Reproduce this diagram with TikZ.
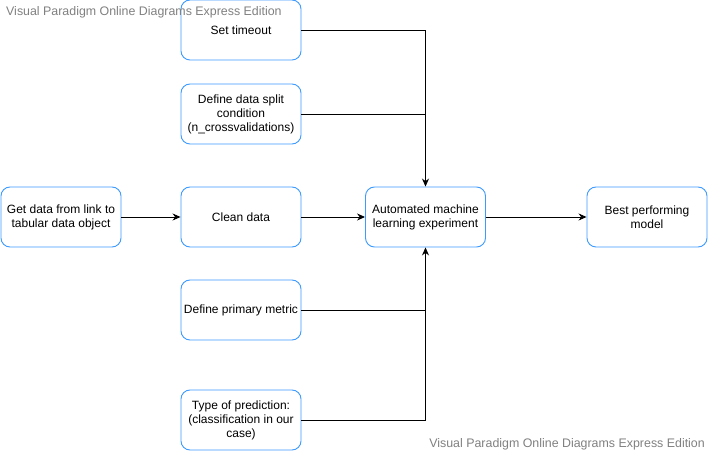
\documentclass[tikz,border=0pt]{standalone}
\usepackage{fontspec}
\setmainfont{Liberation Sans}
\usetikzlibrary{positioning, arrows.meta}
\definecolor{vpblue}{HTML}{3D9BFF}
\definecolor{vpgray}{HTML}{808080}

\begin{document}
\begin{tikzpicture}[x=1pt, y=-1pt,
        box/.style={draw=vpblue, fill=white, rounded corners=9pt, line width=0.9pt, minimum width=120pt, minimum height=60pt, align=center, inner sep=1pt, font=\fontsize{12}{14}\selectfont},
        link/.style={draw=black, line width=0.9pt},
        arr/.style={link, -{Stealth[length=8pt, width=7pt]}},
        watermark/.style={text=vpgray, inner sep=0pt, font=\fontsize{12.4}{14}\selectfont}
    ]
      \useasboundingbox (0,0) rectangle (710,454);
      % Inputs to the experiment
      \node[box] (timeout) at (241,30) {Set timeout};
      \node[box] (split) at (241,114) {Define data split\\condition\\(n\_crossvalidations)};
      \node[box] (getdata) at (61,217) {Get data from link to\\tabular data object};
      \node[box] (clean) at (241,217) {Clean data};
      \node[box] (metric) at (241,310) {Define primary metric};
      \node[box] (predtype) at (241,420) {Type of prediction:\\(classification in our\\case)};
      % Experiment and result
      \node[box] (automl) at (425.5,217) {Automated machine\\learning experiment};
      \node[box] (best) at (647,217) {Best performing\\model};
      % Watermarks
      \node[watermark, anchor=west] (wmtop) at (6,12) {Visual Paradigm Online Diagrams Express Edition};
      \node[watermark, anchor=east] (wmbottom) at (705,444) {Visual Paradigm Online Diagrams Express Edition};
      % Connectors
      \draw[arr] (timeout.east) -| (automl.north);
      \draw[link] (split.east) -- (split.east -| automl.north);
      \draw[arr] (getdata) -- (clean);
      \draw[arr] (clean) -- (automl);
      \draw[arr] (automl) -- (best);
      \draw[link] (metric.east) -- (metric.east -| automl.south);
      \draw[arr] (predtype.east) -| (automl.south);
    \end{tikzpicture}
\end{document}
